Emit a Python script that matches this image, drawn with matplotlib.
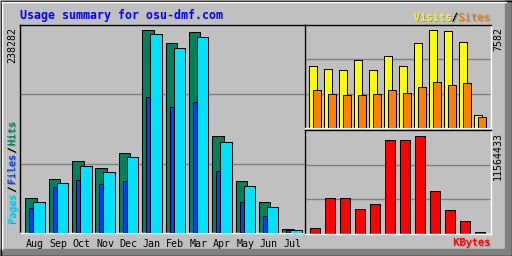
import numpy as np
import matplotlib
matplotlib.use("Agg")
import matplotlib.pyplot as plt
import matplotlib.patheffects as pe
from matplotlib.patches import Rectangle


# -----------------
# data
# -----------------
months = ["Aug", "Sep", "Oct", "Nov", "Dec", "Jan",
          "Feb", "Mar", "Apr", "May", "Jun", "Jul"]
hits = [41300, 63500, 84700, 76400, 94000, 238282,
        223000, 235900, 114000, 61200, 36600, 4900]
files = [36600, 58900, 78800, 71800, 89400, 233600,
         217200, 230400, 107300, 55400, 30700, 3750]
pages = [29600, 54200, 62400, 57700, 61200, 159700,
         148000, 154200, 72900, 36600, 20200, 3500]
visits = [4797, 4565, 4487, 5261, 4487, 5571,
          4797, 6576, 7582, 7505, 6654, 1006]
sites = [2940, 2631, 2553, 2553, 2631, 2940,
         2708, 3172, 3559, 3327, 3482, 851]
kbytes = [669900, 4277900, 4277900, 2902900, 3490500, 11094400,
          11094400, 11564433, 5100600, 2785300, 1492600, 199800]

title = "Usage summary for osu-dmf.com"

# -----------------
# style
# -----------------
W, H = 512, 256
BG = "#c0c0c0"
DKGREY = "#808080"
MONO = "DejaVu Sans Mono"
LW = 0.72  # one pixel at dpi 100

C_HITS = "#00805c"
C_FILES = "#00e0ff"
C_PAGES = "#0040ff"
C_VISITS = "#ffff00"
C_SITES = "#ff8000"
C_KBYTES = "#ff0000"

shadow = [pe.withSimplePatchShadow(offset=(0.72, -0.72),
                                   shadow_rgbFace=DKGREY, alpha=1.0),
          pe.Normal()]


def px_axes(fig, x0, y0, x1, y1):
    return fig.add_axes([x0 / W, 1 - y1 / H, (x1 - x0) / W, (y1 - y0) / H])


def style_panel(ax, top):
    ax.set_facecolor(BG)
    ax.set_ylim(0, top)
    ax.set_yticks([top / 3, 2 * top / 3])
    ax.yaxis.grid(True, color=DKGREY, lw=1.0)
    ax.set_axisbelow(True)
    ax.tick_params(length=0, labelleft=False)
    for side in ["left", "top"]:
        ax.spines[side].set_color("black")
    for side in ["right", "bottom"]:
        ax.spines[side].set_color("white")
    for s in ax.spines.values():
        s.set_linewidth(LW * 1.4)
    ax.set_zorder(2)


fig = plt.figure(figsize=(W / 100, H / 100), dpi=100)

# -----------------
# background + bevel
# -----------------
bg = fig.add_axes([0, 0, 1, 1])
bg.set_xlim(0, W)
bg.set_ylim(H, 0)
bg.axis("off")
bg.set_zorder(0)
bg.add_patch(Rectangle((0, 0), W, H, color=BG))
bg.add_patch(Rectangle((0, 249), W, 7, color=DKGREY))
bg.add_patch(Rectangle((505, 0), 7, H, color=DKGREY))
bg.plot([1.5, W - 6], [1.5, 1.5], color="white", lw=LW * 1.4)
bg.plot([1.5, 1.5], [1.5, H - 7], color="white", lw=LW * 1.4)
bg.add_patch(Rectangle((0.5, 0.5), W - 1, H - 1, fill=False,
                       ec="black", lw=LW * 1.4))

# -----------------
# main panel: hits / files / pages
# -----------------
x = np.arange(len(months))
ax = px_axes(fig, 20, 25, 305, 233)
top_main = max(hits) * 208 / 203
style_panel(ax, top_main)
ax.set_xlim(-0.227, 11.966)
ax.bar(x, hits, width=0.49, align="edge", color=C_HITS,
       edgecolor="black", lw=LW, zorder=2)
ax.bar(x + 0.171, pages, width=0.49, align="edge", color=C_PAGES,
       edgecolor="black", lw=LW, zorder=3)
ax.bar(x + 0.342, files, width=0.49, align="edge", color=C_FILES,
       edgecolor="black", lw=LW, zorder=4)
ax.set_xticks(x + 0.416, months)
ax.tick_params(axis="x", length=0, pad=4.2, labelsize=7.2)
for lab in ax.get_xticklabels():
    lab.set_fontfamily(MONO)

# -----------------
# top right: visits / sites
# -----------------
ax2 = px_axes(fig, 305, 25, 491, 128)
top_vs = max(visits) * 103 / 98
style_panel(ax2, top_vs)
ax2.set_xlim(-0.267, 12.133)
ax2.bar(x, visits, width=0.5, align="edge", color=C_VISITS,
        edgecolor="black", lw=LW, zorder=2)
ax2.bar(x + 0.267, sites, width=0.5, align="edge", color=C_SITES,
        edgecolor="black", lw=LW, zorder=3)
ax2.set_xticks([])

# -----------------
# bottom right: kbytes
# -----------------
ax3 = px_axes(fig, 305, 130, 491, 234)
top_kb = max(kbytes) * 104 / 98.4
style_panel(ax3, top_kb)
ax3.set_xlim(-0.333, 12.067)
ax3.bar(x, kbytes, width=0.667, align="edge", color=C_KBYTES,
        edgecolor="black", lw=LW, zorder=2)
ax3.set_xticks([])

# -----------------
# texts
# -----------------
bg.text(20, 15.5, title, family=MONO, fontsize=8.4, weight="bold",
        color="#0000ff", ha="left", va="center")

num_kw = dict(family=MONO, fontsize=7.2, rotation=90, ha="center",
              va="top", color="black")
bg.text(12, 27, f"{max(hits)}", **num_kw)
bg.text(498, 27, f"{max(visits)}", **num_kw)
bg.text(498, 132, f"{max(kbytes)}", **num_kw)

# rotated legend, built bottom-up from pieces
fs = 7.2
cw = 0.602 * fs * 100 / 72
y = 224
for piece, col in [("Pages", C_FILES), ("/", "black"), ("Files", C_PAGES),
                   ("/", "black"), ("Hits", C_HITS)]:
    bg.text(12, y, piece, family=MONO, fontsize=fs,
            rotation=90, ha="center", va="bottom", color=col,
            path_effects=shadow)
    y -= len(piece) * cw + 1.5

# visits / sites legend, built right-to-left
fs2 = 7.6
cw2 = 0.602 * fs2 * 100 / 72
xr = 490
for piece, col in [("Sites", C_SITES), ("/", "black"), ("Visits", C_VISITS)]:
    bg.text(xr, 17.5, piece, family=MONO, fontsize=fs2,
            ha="right", va="center", color=col, path_effects=shadow)
    xr -= len(piece) * cw2

bg.text(490, 242.5, "KBytes", family=MONO, fontsize=7.4,
        ha="right", va="center", color=C_KBYTES, path_effects=shadow)

fig.savefig("out.png", dpi=100, facecolor=BG)
